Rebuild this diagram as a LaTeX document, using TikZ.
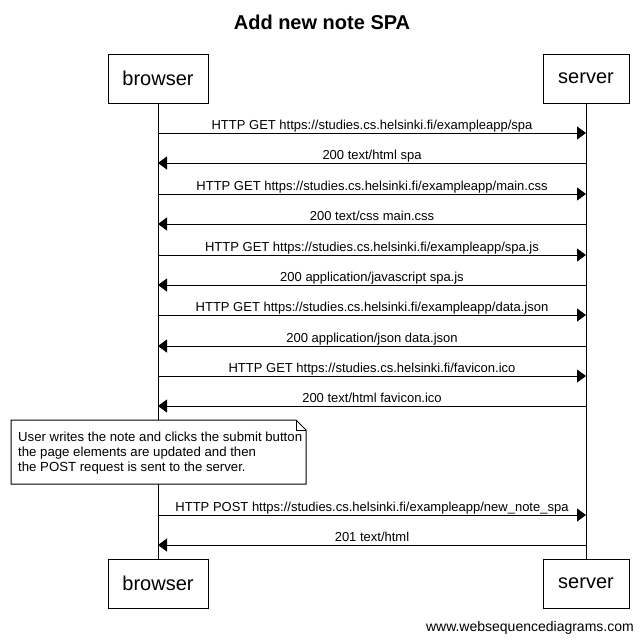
\documentclass[tikz,border=0pt]{standalone}
\usepackage{fontspec}
\setmainfont{Liberation Sans}
\usepackage{xcolor}
\definecolor{LineBlack}{RGB}{0,0,0}
\definecolor{FillWhite}{RGB}{255,255,255}
\usepackage{tikz}
\usetikzlibrary{
  arrows.meta,
  positioning, calc
}
\tikzset{
  % Participant box
  actor/.style={
    rectangle, draw=LineBlack, line width=1pt,
    fill=FillWhite,
    minimum width=100pt, minimum height=49pt,
    font=\fontsize{20}{24}\selectfont,
    inner sep=0pt
  },
  % Lifeline
  lifeline/.style={draw=LineBlack, line width=1pt},
  % Message arrow
  msg/.style={-{Triangle[length=9pt,width=13pt]}, line width=1pt, LineBlack},
  % Message label
  mlabel/.style={font=\fontsize{13}{15}\selectfont, anchor=base, inner sep=0pt, yshift=4pt},
  % Note box with folded corner
  notebox/.style={draw=LineBlack, line width=1pt, fill=FillWhite},
  notetext/.style={
    font=\fontsize{13.2}{15}\selectfont, align=left,
    anchor=north west, inner sep=0pt
  },
}

\begin{document}
\begin{tikzpicture}[x=1pt, y=-1pt]
  \useasboundingbox (0,0) rectangle (644,641);

  %% Title
  \node[font=\fontsize{20}{24}\selectfont\bfseries] (title) at (322,22) {Add new note SPA};

  %% Participants
  \node[actor] (bt) at (158,78.5) {browser};
  \node[actor, minimum width=86pt] (st) at (586,78.5) {server};
  \node[actor] (bb) at (158,583.5) {browser};
  \node[actor, minimum width=86pt] (sb) at (586,583.5) {server};

  %% Lifelines
  \draw[lifeline] (bt) -- (bb);
  \draw[lifeline] (st) -- (sb);

  %% Message points on the lifelines
  \coordinate (b1) at (bt.south |- 0,133);  \coordinate (s1) at (st.south |- 0,133);
  \coordinate (b2) at (bt.south |- 0,163);  \coordinate (s2) at (st.south |- 0,163);
  \coordinate (b3) at (bt.south |- 0,194);  \coordinate (s3) at (st.south |- 0,194);
  \coordinate (b4) at (bt.south |- 0,224);  \coordinate (s4) at (st.south |- 0,224);
  \coordinate (b5) at (bt.south |- 0,255);  \coordinate (s5) at (st.south |- 0,255);
  \coordinate (b6) at (bt.south |- 0,285);  \coordinate (s6) at (st.south |- 0,285);
  \coordinate (b7) at (bt.south |- 0,315);  \coordinate (s7) at (st.south |- 0,315);
  \coordinate (b8) at (bt.south |- 0,346);  \coordinate (s8) at (st.south |- 0,346);
  \coordinate (b9) at (bt.south |- 0,376);  \coordinate (s9) at (st.south |- 0,376);
  \coordinate (b10) at (bt.south |- 0,406); \coordinate (s10) at (st.south |- 0,406);
  \coordinate (b11) at (bt.south |- 0,515); \coordinate (s11) at (st.south |- 0,515);
  \coordinate (b12) at (bt.south |- 0,545); \coordinate (s12) at (st.south |- 0,545);

  %% Page load
  \draw[msg] (b1) -- node[mlabel]{HTTP GET https://studies.cs.helsinki.fi/exampleapp/spa} (s1);
  \draw[msg] (s2) -- node[mlabel]{200 text/html spa} (b2);
  \draw[msg] (b3) -- node[mlabel]{HTTP GET https://studies.cs.helsinki.fi/exampleapp/main.css} (s3);
  \draw[msg] (s4) -- node[mlabel]{200 text/css main.css} (b4);
  \draw[msg] (b5) -- node[mlabel]{HTTP GET https://studies.cs.helsinki.fi/exampleapp/spa.js} (s5);
  \draw[msg] (s6) -- node[mlabel]{200 application/javascript spa.js} (b6);
  \draw[msg] (b7) -- node[mlabel]{HTTP GET https://studies.cs.helsinki.fi/exampleapp/data.json} (s7);
  \draw[msg] (s8) -- node[mlabel]{200 application/json data.json} (b8);
  \draw[msg] (b9) -- node[mlabel]{HTTP GET https://studies.cs.helsinki.fi/favicon.ico} (s9);
  \draw[msg] (s10) -- node[mlabel]{200 text/html favicon.ico} (b10);

  %% Note
  \draw[notebox] (11,420) -- (296,420) -- (306,430) -- (306,484) -- (11,484) -- cycle;
  \draw[notebox, fill=none] (296,420) -- (296,430) -- (306,430);
  \node[notetext] (note) at (18,432) {User writes the note and clicks the submit button\\the page elements are updated and then\\the POST request is sent to the server.};

  %% New note
  \draw[msg] (b11) -- node[mlabel]{HTTP POST https://studies.cs.helsinki.fi/exampleapp/new\_note\_spa} (s11);
  \draw[msg] (s12) -- node[mlabel]{201 text/html} (b12);

  %% Footer
  \node[font=\fontsize{14}{17}\selectfont, anchor=base east, inner sep=0pt] (footer) at (634,631) {www.websequencediagrams.com};

\end{tikzpicture}
\end{document}
